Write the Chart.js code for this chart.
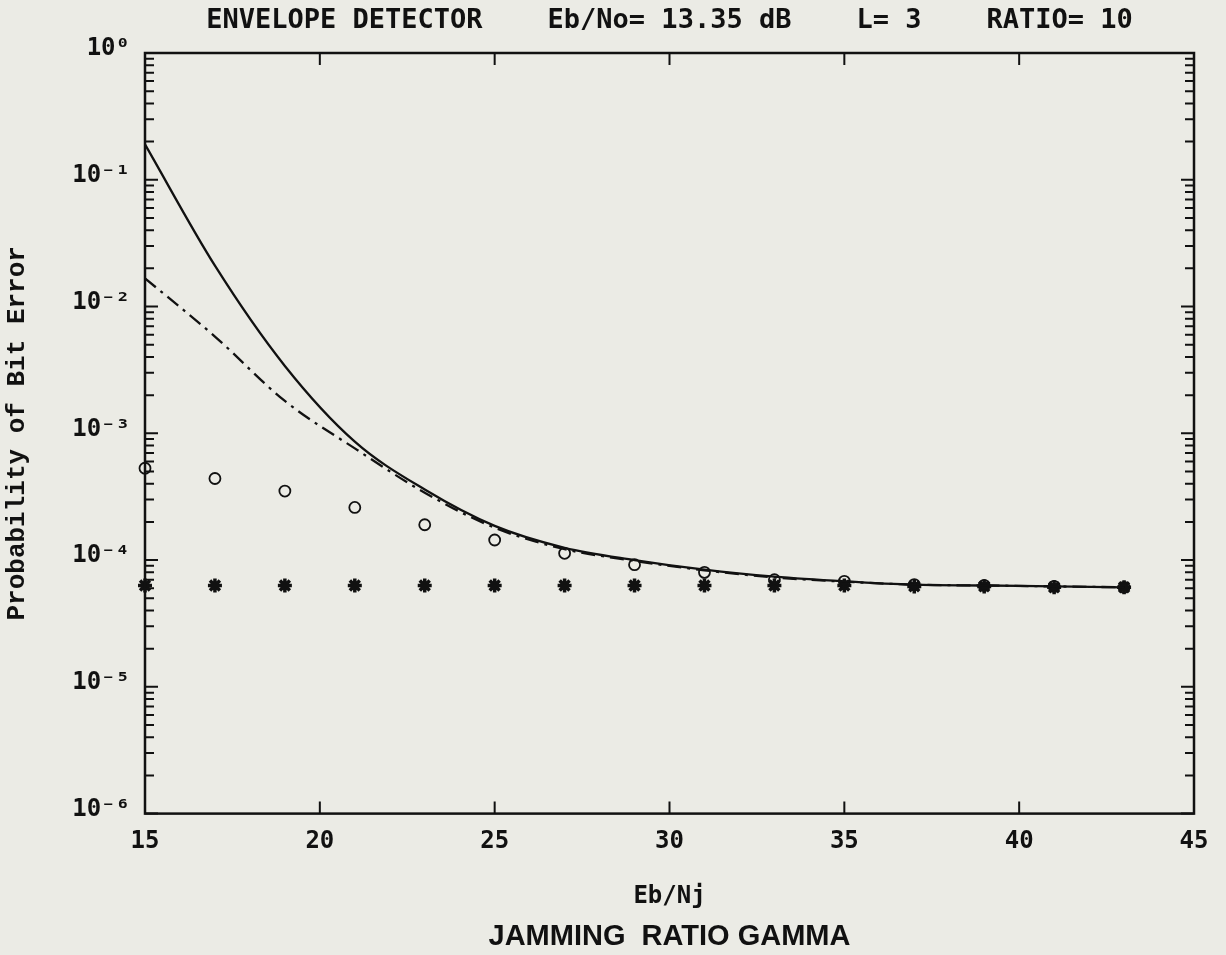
<!DOCTYPE html>
<html>
<head>
<meta charset="utf-8">
<script src="https://cdn.jsdelivr.net/npm/chart.js@4/dist/chart.umd.min.js"></script>
<style>
  body { margin: 0; background: #ebebe5; }
  #wrap { width: 1226px; height: 955px; }
</style>
</head>
<body>
<div id="wrap"><canvas id="pe"></canvas></div>
<script>
// jamming ratio gamma (Eb/Nj, dB)
const gamma = [15, 17, 19, 21, 23, 25, 27, 29, 31, 33, 35, 37, 39, 41, 43];

// probability of bit error
const peSolid = [0.19, 0.021, 0.0034, 0.00086, 0.00036, 0.000186, 0.000125, 0.0001, 0.000084, 0.000074, 0.000068, 0.000064, 0.000063, 0.000062, 0.000061];
const peDashDot = [0.0167, 0.0058, 0.0018, 0.00076, 0.00034, 0.00018, 0.000122, 0.0000985, 0.000083, 0.000073, 0.0000675, 0.000064, 0.000063, 0.000062, 0.000061];
const peCircle = [0.00053, 0.00044, 0.00035, 0.00026, 0.00019, 0.000144, 0.000113, 0.000092, 0.00008, 0.00007, 0.000068, 0.000064, 0.000063, 0.000062, 0.000061];
const peStar = [0.000063, 0.000063, 0.000063, 0.000063, 0.000063, 0.000063, 0.000063, 0.000063, 0.000063, 0.000063, 0.000063, 0.000062, 0.000062, 0.000061, 0.000061];

// axes
const xTicks = [15, 20, 25, 30, 35, 40, 45];
const yTicks = [1, 1e-1, 1e-2, 1e-3, 1e-4, 1e-5, 1e-6];
const yTickLabels = ['10⁰', '10⁻¹', '10⁻²', '10⁻³', '10⁻⁴', '10⁻⁵', '10⁻⁶'];
const minorSteps = [2, 3, 4, 5, 6, 7, 8, 9];

const toXY = (ys) => gamma.map((g, i) => ({ x: g, y: ys[i] }));

// box round the plot + ticks pointing inward
const frame = {
  id: 'frame',
  afterDatasetsDraw(chart) {
    const { ctx, chartArea: a, scales: { x, y } } = chart;
    ctx.save();
    ctx.strokeStyle = '#111';
    ctx.lineWidth = 2.5;
    ctx.strokeRect(a.left, a.top, a.right - a.left, a.bottom - a.top);
    ctx.lineWidth = 2;
    ctx.beginPath();
    xTicks.slice(1, -1).forEach(v => {
      const px = x.getPixelForValue(v);
      ctx.moveTo(px, a.bottom); ctx.lineTo(px, a.bottom - 12);
      ctx.moveTo(px, a.top); ctx.lineTo(px, a.top + 12);
    });
    yTicks.forEach(v => {
      const py = y.getPixelForValue(v);
      ctx.moveTo(a.left, py); ctx.lineTo(a.left + 13, py);
      ctx.moveTo(a.right, py); ctx.lineTo(a.right - 13, py);
    });
    yTicks.slice(1).forEach(v => {
      minorSteps.forEach(m => {
        const py = y.getPixelForValue(v * m);
        ctx.moveTo(a.left, py); ctx.lineTo(a.left + 9, py);
        ctx.moveTo(a.right, py); ctx.lineTo(a.right - 9, py);
      });
    });
    ctx.stroke();
    ctx.restore();
  }
};

new Chart(document.getElementById('pe'), {
  type: 'line',
  data: {
    datasets: [
      {
        data: toXY(peSolid),
        borderColor: '#111',
        borderWidth: 2.3,
        pointRadius: 0,
        cubicInterpolationMode: 'monotone'
      },
      {
        data: toXY(peDashDot),
        borderColor: '#111',
        borderWidth: 2.3,
        borderDash: [14, 6, 3, 6],
        pointRadius: 0,
        cubicInterpolationMode: 'monotone'
      },
      {
        data: toXY(peCircle),
        showLine: false,
        pointStyle: 'circle',
        pointRadius: 5.5,
        pointBorderWidth: 1.8,
        pointBorderColor: '#111',
        pointBackgroundColor: 'rgba(0,0,0,0)'
      },
      {
        data: toXY(peStar),
        showLine: false,
        pointStyle: 'star',
        pointRadius: 7,
        pointBorderWidth: 3.5,
        pointBorderColor: '#111',
        pointBackgroundColor: '#111'
      }
    ]
  },
  options: {
    responsive: true,
    maintainAspectRatio: false,
    animation: false,
    clip: false,
    layout: { padding: { top: 0, right: 32, bottom: 0, left: 0 } },
    plugins: {
      legend: { display: false },
      tooltip: { enabled: false },
      title: {
        display: true,
        fullSize: false,
        text: 'ENVELOPE DETECTOR    Eb/No= 13.35 dB    L= 3    RATIO= 10',
        color: '#111',
        font: { family: 'DejaVu Sans Mono', size: 27, weight: 'bold' },
        padding: { top: 5, bottom: 15.6 }
      },
      subtitle: {
        display: true,
        fullSize: false,
        position: 'bottom',
        text: 'JAMMING  RATIO GAMMA',
        color: '#111',
        font: { family: 'Liberation Sans', size: 29, weight: 'bold' },
        padding: { top: 4, bottom: 1 }
      }
    },
    scales: {
      x: {
        type: 'linear',
        min: 15,
        max: 45,
        afterBuildTicks: s => { s.ticks = xTicks.map(v => ({ value: v })); },
        afterFit: s => { s.height = 101.6; },
        grid: { display: false, drawTicks: false },
        border: { display: false },
        ticks: {
          color: '#111',
          padding: 14,
          maxRotation: 0,
          font: { family: 'DejaVu Sans Mono', size: 24, weight: 'bold' }
        },
        title: {
          display: true,
          text: 'Eb/Nj',
          color: '#111',
          font: { family: 'DejaVu Sans Mono', size: 24, weight: 'bold' },
          padding: { top: 26, bottom: 4 }
        }
      },
      y: {
        type: 'logarithmic',
        min: 1e-6,
        max: 1,
        afterBuildTicks: s => { s.ticks = yTicks.map(v => ({ value: v })); },
        afterFit: s => { s.width = 145; },
        grid: { display: false, drawTicks: false },
        border: { display: false },
        ticks: {
          color: '#111',
          padding: 15,
          labelOffset: -4,
          font: { family: 'DejaVu Sans Mono', size: 24, weight: 'bold' },
          callback: (v, i) => yTickLabels[i]
        },
        title: {
          display: true,
          text: 'Probability of Bit Error',
          color: '#111',
          font: { family: 'Liberation Mono', size: 26, weight: 'bold' },
          padding: { top: 2, bottom: 0 }
        }
      }
    }
  },
  plugins: [frame]
});
</script>
</body>
</html>
